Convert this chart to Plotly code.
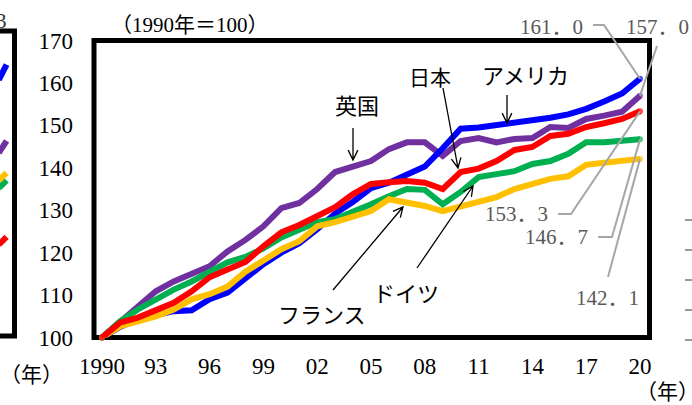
import math
import plotly.graph_objects as go

# ---------------- data ----------------
years = list(range(1990, 2021))
usa = [100, 102.5, 104.3, 105.4, 106.2, 106.4, 109.0, 110.6, 114.0, 117.3, 120.0, 122.2, 125.5, 129.2, 132.0,
       135.2, 136.5, 138.3, 140.3, 144.6, 149.2, 149.5, 150.0, 150.6, 151.2, 151.8, 152.6, 153.9, 155.6, 157.5, 161.0]
uk = [100, 103.5, 107.0, 110.9, 113.2, 114.9, 116.8, 120.3, 123.0, 126.2, 130.5, 131.7, 135.0, 139.0, 140.4,
      141.6, 144.4, 146.0, 146.0, 142.8, 146.3, 147.0, 146.0, 146.8, 147.0, 149.6, 149.4, 151.5, 152.3, 153.2, 157.0]
japan = [100, 103.5, 104.7, 106.6, 108.2, 110.9, 114.2, 116.0, 117.8, 121.5, 124.8, 126.5, 128.5, 130.7, 133.8,
         136.2, 136.6, 136.9, 136.5, 135.0, 139.0, 139.8, 141.6, 144.2, 144.9, 147.5, 148.0, 149.6, 150.5, 151.5, 153.3]
germany = [100, 103.8, 106.6, 109.0, 111.3, 113.2, 115.4, 117.7, 119.0, 121.0, 123.6, 125.5, 127.2, 127.9, 129.5,
           131.4, 133.3, 135.0, 134.8, 131.4, 134.3, 137.8, 138.5, 139.2, 140.9, 141.6, 143.3, 146.0, 146.0, 146.3, 146.7]
france = [100, 102.6, 103.8, 105.0, 106.6, 109.0, 110.2, 112.0, 115.5, 118.0, 120.8, 122.7, 126.2, 127.2, 128.4,
          129.8, 132.6, 131.9, 131.0, 129.8, 131.0, 132.2, 133.1, 135.0, 136.2, 137.4, 138.0, 140.7, 141.2, 141.6, 142.1]

x_tick_vals = [1990, 1993, 1996, 1999, 2002, 2005, 2008, 2011, 2014, 2017, 2020]
x_tick_text = ["1990", "93", "96", "99", "02", "05", "08", "11", "14", "17", "20"]
y_tick_vals = [100, 110, 120, 130, 140, 150, 160, 170]

end_labels = ["161．0", "157．0", "153．3", "146．7", "142．1"]

# tail ends of the neighbouring (cropped) panel on the left
left_x = [-0.1, 0.55]
left_blue = [84, 89]
left_purple = [60, 64]
left_yellow = [51, 53.5]
left_green = [48.5, 51]
left_red = [30, 32.5]

# ---------------- layout geometry ----------------
W, H = 692, 405
PX_L, PX_R, PX_T, PX_B = 94, 649.5, 40.5, 337.5
X_RANGE = [1989.554, 2020.53]
Y_RANGE = [100, 170]

def pp(px, py):
    return px / W, 1 - py / H

def data_px(x, y):
    px = PX_L + (x - X_RANGE[0]) / (X_RANGE[1] - X_RANGE[0]) * (PX_R - PX_L)
    py = PX_B - (y - Y_RANGE[0]) / (Y_RANGE[1] - Y_RANGE[0]) * (PX_B - PX_T)
    return px, py

def path_px(points):
    s = ""
    for i, (px, py) in enumerate(points):
        x, y = pp(px, py)
        s += ("M" if i == 0 else "L") + f"{x:.5f},{y:.5f} "
    return s.strip()

def arrow_path(tail, head, size=11, ang=26):
    dx, dy = head[0] - tail[0], head[1] - tail[1]
    L = math.hypot(dx, dy)
    ux, uy = dx / L, dy / L
    a = math.radians(ang)
    w = []
    for s in (1, -1):
        c, si = math.cos(s * a), math.sin(s * a)
        rx, ry = ux * c - uy * si, ux * si + uy * c
        w.append((head[0] - size * rx, head[1] - size * ry))
    return path_px([tail, head]) + " " + path_px([w[0], head, w[1]])

SERIF = "Liberation Serif, Noto Sans CJK JP, serif"
CJK = "Noto Sans CJK JP, sans-serif"

fig = go.Figure()

series = [("英国", uk, "#7030A0"), ("アメリカ", usa, "#0000FF"), ("ドイツ", germany, "#00B050"),
          ("フランス", france, "#FFC000"), ("日本", japan, "#FF0000")]
n = len(years)
for name, vals, col in series:
    fig.add_trace(go.Scatter(
        x=years, y=vals, name=name, mode="lines+markers",
        line=dict(color=col, width=6),
        marker=dict(color=col, size=[6] + [0] * (n - 2) + [6], line=dict(width=0)),
        cliponaxis=False, showlegend=False, hoverinfo="skip"))

for vals, col in [(left_purple, "#7030A0"), (left_blue, "#0000FF"), (left_green, "#00B050"),
                  (left_yellow, "#FFC000"), (left_red, "#FF0000")]:
    fig.add_trace(go.Scatter(x=left_x, y=vals, mode="lines", line=dict(color=col, width=6),
                             xaxis="x2", yaxis="y2", showlegend=False, hoverinfo="skip"))

shapes = []
shapes.append(dict(type="rect", xref="x domain", yref="y domain", x0=0, x1=1, y0=0, y1=1,
                   line=dict(color="black", width=5), layer="below"))
shapes.append(dict(type="path", xref="paper", yref="paper",
                   path=path_px([(0, 31), (14.5, 31), (14.5, 336), (0, 336)]),
                   line=dict(color="black", width=5)))
for ty in [220, 250, 280, 310, 340]:
    shapes.append(dict(type="path", xref="paper", yref="paper",
                       path=path_px([(685, ty), (692, ty)]), line=dict(color="#333333", width=1)))

GRAY = "#A6A6A6"
leaders = [
    [(593, 25), (604, 25), data_px(2020, usa[-1])],
    [(657, 46), data_px(2020, uk[-1])],
    [(558, 214), (571, 214), data_px(2020, japan[-1])],
    [(598, 237), (612, 237), data_px(2020, germany[-1])],
    [(608, 277), data_px(2020, france[-1])],
]
for pts in leaders:
    shapes.append(dict(type="path", xref="paper", yref="paper", path=path_px(pts),
                       line=dict(color=GRAY, width=2), layer="above"))

arrows = [((353, 128), (353, 160)),
          ((443, 88), (458, 168)),
          ((507, 95), (507, 123)),
          ((333, 290), (403, 207)),
          ((417, 268), (473, 186))]
for t, h in arrows:
    shapes.append(dict(type="path", xref="paper", yref="paper", path=arrow_path(t, h),
                       line=dict(color="black", width=1.3), layer="above"))

annotations = []
def txt(s, px, py, size, color="black", family=CJK, xanchor="center"):
    x, y = pp(px, py)
    annotations.append(dict(text=s, x=x, y=y, xref="paper", yref="paper", showarrow=False,
                            xanchor=xanchor, yanchor="middle", font=dict(size=size, color=color, family=family)))

txt("（1990年＝100）", 190, 25, 21, family=SERIF)
txt("英国", 357, 104, 22)
txt("日本", 430, 76, 21)
txt("アメリカ", 525, 74, 22)
txt("フランス", 322, 313, 22)
txt("ドイツ", 406, 292, 22)
VC = "#595959"
for s, (px, py) in zip(end_labels, [(551, 27), (657, 27), (516, 214), (556, 237), (607, 298)]):
    txt(s, px, py, 21, color=VC, family=SERIF)
txt("（年）", 667, 392, 21, family=SERIF)
txt("（年）", 31, 375, 21, family=SERIF)
txt("3", 9, 21, 21, color="#333333", family=SERIF, xanchor="right")

fig.update_layout(
    width=W, height=H, margin=dict(l=0, r=0, t=0, b=0),
    paper_bgcolor="white", plot_bgcolor="white",
    shapes=shapes, annotations=annotations,
    xaxis=dict(domain=[PX_L / W, PX_R / W], range=X_RANGE, tickmode="array",
               tickvals=x_tick_vals, ticktext=x_tick_text, showgrid=False, zeroline=False,
               showline=False, ticks="", ticklabelstandoff=12, automargin=False,
               tickfont=dict(size=23, color="black", family=SERIF)),
    yaxis=dict(domain=[1 - PX_B / H, 1 - PX_T / H], range=Y_RANGE, tickmode="array",
               tickvals=y_tick_vals, showgrid=False, zeroline=False, showline=False, ticks="",
               ticklabelstandoff=20, automargin=False,
               tickfont=dict(size=23, color="black", family=SERIF)),
    xaxis2=dict(domain=[0, 12 / W], range=[0, 1], visible=False, anchor="y2"),
    yaxis2=dict(domain=[1 - 336 / H, 1 - 31 / H], range=[0, 100], visible=False, anchor="x2"),
)

fig.write_html("out.html", config={"displayModeBar": False},
               post_script="document.body.style.margin='0';")
